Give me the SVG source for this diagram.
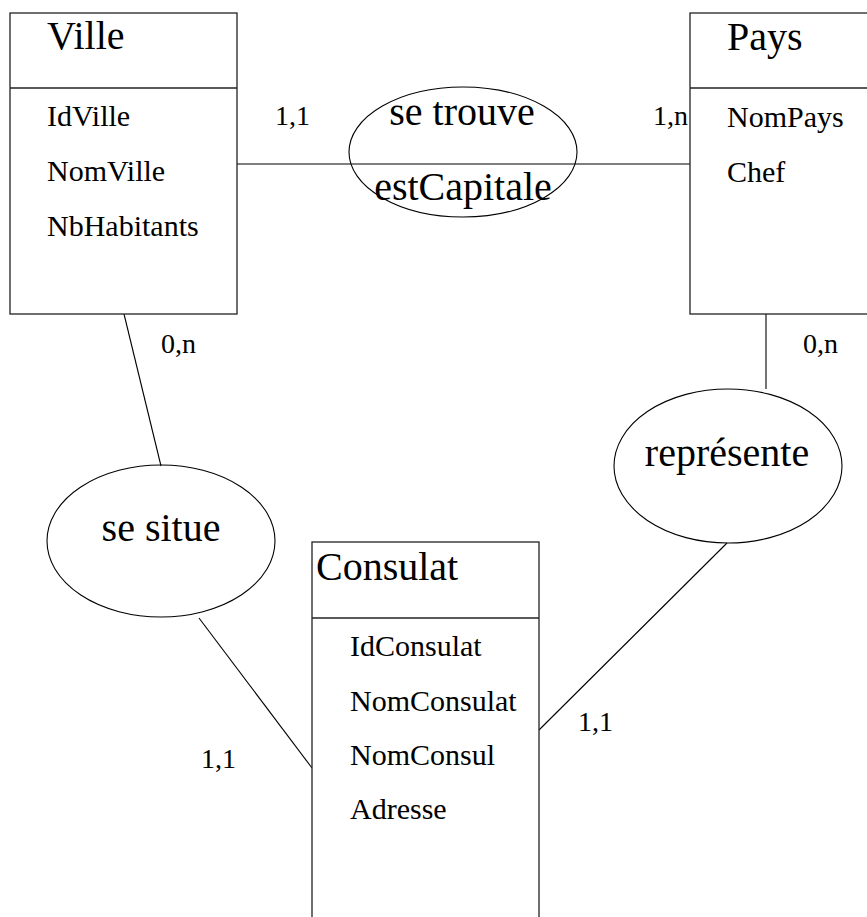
<svg xmlns="http://www.w3.org/2000/svg" width="867" height="917" viewBox="0 0 867 917">
<style>
  .box { fill: #fff; stroke: #222; stroke-width: 1.3; }
  .div { stroke: #222; stroke-width: 1.3; }
  .ell { fill: none; stroke: #000; stroke-width: 1.1; }
  .con { stroke: #000; stroke-width: 1.1; fill: none; }
  text { font-family: "Liberation Serif", "Times New Roman", serif; fill: #000; }
  .title { font-size: 40px; }
  .attr { font-size: 30px; }
  .rel { font-size: 40px; text-anchor: middle; }
  .card { font-size: 28px; }
</style>
<rect width="867" height="917" fill="#fff"/>
<g id="connectors">
  <line class="con" x1="237" y1="164" x2="690" y2="164"/>
  <line class="con" x1="124" y1="314" x2="161" y2="466"/>
  <line class="con" x1="199" y1="618" x2="312" y2="768"/>
  <line class="con" x1="766" y1="314" x2="766" y2="389"/>
  <line class="con" x1="727" y1="543" x2="539" y2="730"/>
  <text class="card" x="275" y="125">1,1</text>
  <text class="card" x="653" y="125">1,n</text>
  <text class="card" x="161" y="353">0,n</text>
  <text class="card" x="803" y="353">0,n</text>
  <text class="card" x="201" y="768">1,1</text>
  <text class="card" x="578" y="731">1,1</text>
</g>
<g id="ville">
  <rect class="box" x="10" y="13" width="227" height="301"/>
  <line class="div" x1="10" y1="88" x2="237" y2="88"/>
  <text class="title" x="47" y="49">Ville</text>
  <text class="attr" x="47" y="126">IdVille</text>
  <text class="attr" x="47" y="181">NomVille</text>
  <text class="attr" x="47" y="236">NbHabitants</text>
</g>
<g id="pays">
  <rect class="box" x="690" y="13" width="200" height="301"/>
  <line class="div" x1="690" y1="88" x2="890" y2="88"/>
  <text class="title" x="727" y="50">Pays</text>
  <text class="attr" x="727" y="127">NomPays</text>
  <text class="attr" x="727" y="182">Chef</text>
</g>
<g id="consulat">
  <rect class="box" x="312" y="542" width="227" height="420"/>
  <line class="div" x1="312" y1="618" x2="539" y2="618"/>
  <text class="title" x="316" y="580">Consulat</text>
  <text class="attr" x="350" y="656">IdConsulat</text>
  <text class="attr" x="350" y="711">NomConsulat</text>
  <text class="attr" x="350" y="765">NomConsul</text>
  <text class="attr" x="350" y="819">Adresse</text>
</g>
<g id="se-trouve">
  <ellipse class="ell" cx="463" cy="152" rx="114" ry="65"/>
  <text class="rel" x="462" y="125">se trouve</text>
  <text class="rel" x="463" y="200">estCapitale</text>
</g>
<g id="represente">
  <ellipse class="ell" cx="728" cy="466" rx="114" ry="77"/>
  <text class="rel" x="727" y="466">représente</text>
</g>
<g id="se-situe">
  <ellipse class="ell" cx="161" cy="541" rx="114" ry="76"/>
  <text class="rel" x="161" y="541">se situe</text>
</g>
</svg>
